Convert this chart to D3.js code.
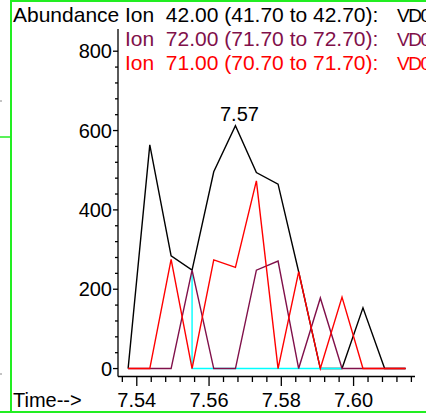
<!DOCTYPE html>
<html>
<head>
<meta charset="utf-8">
<script src="https://cdn.jsdelivr.net/npm/d3@7"></script>
<style>
  body { margin: 0; background: #fff; overflow: hidden; }
  svg text { font-family: "Liberation Sans", Arial, sans-serif; }
</style>
</head>
<body>
<div class="box"></div>
<script>
// temps de retention (min)
const times = [7.5376, 7.5436, 7.5495, 7.5553, 7.5613, 7.5673, 7.5731,
               7.5791, 7.5848, 7.5908, 7.5968, 7.6026, 7.6086, 7.6144];

// abondances par ion
const ion42 = [0, 564, 284, 248, 496, 612, 494, 465, 244, 0, 0, 153, 0, 0];
const ion72 = [0, 0, 0, 248, 0, 0, 248, 271, 0, 178, 0, 0, 0, 0];
const ion71 = [0, 0, 275, 0, 274, 255, 473, 0, 244, 0, 180, 0, 0, 0];

// trace cyan (commence a 7.5553)
const cyanTimes = [7.5553, 7.5553, 7.5613, 7.5673, 7.5731, 7.5791, 7.5848, 7.5908, 7.5968];
const cyanVals  = [248, 0, 0, 0, 0, 0, 0, 0, 0];

const legend = [
  {txt: 'Ion  42.00 (41.70 to 42.70):', file: 'VD0', col: '#000'},
  {txt: 'Ion  72.00 (71.70 to 72.70):', file: 'VD0', col: '#80104a'},
  {txt: 'Ion  71.00 (70.70 to 71.70):', file: 'VD0', col: '#ff0000'}
];

const xTicks = [7.54, 7.56, 7.58, 7.60];
const yTicks = [0, 200, 400, 600, 800];
const peakLabel = '7.57';

const W = 426, H = 413;

const svg = d3.select('.box')
              .append('svg')
              .attr('width', W)
              .attr('height', H);

const x = d3.scaleLinear().domain([7.5348, 7.6170]).range([118, 415]);
const y = d3.scaleLinear().domain([-20, 856]).range([376.5, 29]);

// cadre vert
const green = '#22ee22';
svg.append('line').attr('x1', 11).attr('x2', 11).attr('y1', 0).attr('y2', H)
   .attr('stroke', green).attr('stroke-width', 2);
svg.append('line').attr('x1', 11).attr('x2', W).attr('y1', 1).attr('y2', 1)
   .attr('stroke', green).attr('stroke-width', 2);
svg.append('line').attr('x1', 0).attr('x2', W).attr('y1', 412).attr('y2', 412)
   .attr('stroke', green).attr('stroke-width', 2);
svg.append('line').attr('x1', 0).attr('x2', 11).attr('y1', 137).attr('y2', 137)
   .attr('stroke', green).attr('stroke-width', 1.5);
[101, 374].forEach(v => {
  svg.append('line').attr('x1', 0).attr('x2', 2).attr('y1', v).attr('y2', v)
     .attr('stroke', '#888').attr('stroke-width', 1);
});

// axes
const axes = svg.append('g').attr('stroke', '#000').attr('stroke-width', 1.3);
axes.append('line').attr('x1', 118).attr('x2', 118).attr('y1', 29).attr('y2', 376.5);
axes.append('line').attr('x1', 118).attr('x2', 415).attr('y1', 376.5).attr('y2', 376.5);

// graduations y
d3.range(0, 801, 40).forEach(v => {
  const major = yTicks.includes(v);
  axes.append('line')
      .attr('x1', major ? 113 : 115).attr('x2', 118)
      .attr('y1', y(v)).attr('y2', y(v));
});
// graduations x
d3.range(0, 21).map(i => 7.536 + i * 0.004).forEach(v => {
  const major = xTicks.some(t => Math.abs(t - v) < 1e-6);
  axes.append('line')
      .attr('x1', x(v)).attr('x2', x(v))
      .attr('y1', 376.5).attr('y2', major ? 386 : 382);
});

svg.selectAll('.ylab')
   .data(yTicks)
   .enter().append('text')
   .attr('x', 112).attr('y', d => y(d) + 7)
   .attr('text-anchor', 'end')
   .attr('font-size', 20)
   .text(d => d);

svg.selectAll('.xlab')
   .data(xTicks)
   .enter().append('text')
   .attr('x', d => x(d)).attr('y', 407)
   .attr('text-anchor', 'middle')
   .attr('font-size', 20)
   .text(d => d.toFixed(2));

svg.append('text').attr('x', 13).attr('y', 407).attr('font-size', 20).text('Time-->');
svg.append('text').attr('x', 13).attr('y', 22).attr('font-size', 21).text('Abundance');

const legs = svg.selectAll('.leg')
   .data(legend)
   .enter().append('text')
   .attr('y', (d, i) => 22 + i * 24)
   .attr('font-size', 21)
   .attr('fill', d => d.col)
   .style('white-space', 'pre');
legs.append('tspan').attr('x', 125).text(d => d.txt);
legs.append('tspan').attr('x', 397).attr('font-size', 19).attr('letter-spacing', -1.5).text(d => d.file);

// traces
const line = d3.line().x(d => x(d[0])).y(d => y(d[1]));
const series = [
  {pts: d3.zip(times, ion42), col: '#000'},
  {pts: d3.zip(cyanTimes, cyanVals), col: '#00ffff'},
  {pts: d3.zip(times, ion72), col: '#80104a'},
  {pts: d3.zip(times, ion71), col: '#ff0000'}
];
svg.selectAll('.trace')
   .data(series)
   .enter().append('path')
   .attr('d', d => line(d.pts))
   .attr('fill', 'none')
   .attr('stroke', d => d.col)
   .attr('stroke-width', 1.4)
   .attr('stroke-linejoin', 'miter');

// etiquette du pic
const iMax = d3.maxIndex(ion42);
svg.append('text')
   .attr('x', x(times[iMax]) + 4).attr('y', y(ion42[iMax]) - 5)
   .attr('text-anchor', 'middle')
   .attr('font-size', 20)
   .text(peakLabel);
</script>
</body>
</html>
